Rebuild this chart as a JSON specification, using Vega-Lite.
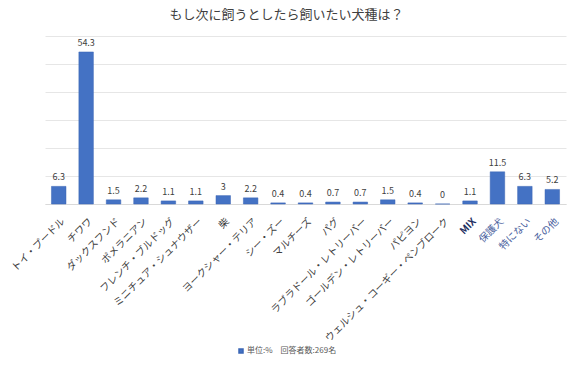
{
  "$schema": "https://vega.github.io/schema/vega-lite/v6.json",
  "width": 521,
  "height": 168,
  "autosize": {"type": "none"},
  "padding": {"left": 45, "top": 36, "right": 10, "bottom": 163},
  "background": "white",
  "title": {
    "text": "もし次に飼うとしたら飼いたい犬種は？",
    "font": "Noto Sans CJK JP",
    "fontSize": 13,
    "fontWeight": "normal",
    "color": "#404040",
    "anchor": "middle",
    "dx": -19,
    "offset": 14
  },
  "data": {
    "values": [
      {"breed": "トイ・プードル", "pct": 6.3},
      {"breed": "チワワ", "pct": 54.3},
      {"breed": "ダックスフンド", "pct": 1.5},
      {"breed": "ポメラニアン", "pct": 2.2},
      {"breed": "フレンチ・ブルドッグ", "pct": 1.1},
      {"breed": "ミニチュア・シュナウザー", "pct": 1.1},
      {"breed": "柴", "pct": 3},
      {"breed": "ヨークシャー・テリア", "pct": 2.2},
      {"breed": "シー・ズー", "pct": 0.4},
      {"breed": "マルチーズ", "pct": 0.4},
      {"breed": "パグ", "pct": 0.7},
      {"breed": "ラブラドール・レトリーバー", "pct": 0.7},
      {"breed": "ゴールデン・レトリーバー", "pct": 1.5},
      {"breed": "パピヨン", "pct": 0.4},
      {"breed": "ウェルシュ・コーギー・ペンブローク", "pct": 0},
      {"breed": "MIX", "pct": 1.1},
      {"breed": "保護犬", "pct": 11.5},
      {"breed": "特にない", "pct": 6.3},
      {"breed": "その他", "pct": 5.2}
    ]
  },
  "encoding": {
    "x": {
      "field": "breed",
      "type": "nominal",
      "sort": null,
      "scale": {"paddingInner": 0.47, "paddingOuter": 0.235},
      "axis": {
        "title": null,
        "labelAngle": -45,
        "labelFont": "Noto Sans CJK JP",
        "labelFontSize": 10,
        "labelColor": {
          "condition": [
            {"test": "datum.value === 'MIX'", "value": "#1F2F5F"},
            {"test": "indexof(['保護犬','特にない','その他'], datum.value) >= 0", "value": "#4A5F9E"}
          ],
          "value": "#404040"
        },
        "labelFontWeight": {
          "condition": {"test": "datum.value === 'MIX'", "value": "bold"},
          "value": "normal"
        },
        "labelPadding": 12,
        "labelOffset": 1,
        "ticks": false,
        "domainColor": "#d9d9d9",
        "labelLimit": 300,
        "labelOverlap": false
      }
    },
    "y": {
      "field": "pct",
      "type": "quantitative",
      "scale": {"domain": [0, 60], "nice": false},
      "axis": {
        "title": null,
        "labels": false,
        "ticks": false,
        "domain": false,
        "values": [0, 10, 20, 30, 40, 50, 60],
        "gridColor": "#e6e6e6"
      }
    }
  },
  "layer": [
    {
      "mark": {"type": "bar", "stroke": "#3a65b5", "strokeWidth": 0.5},
      "encoding": {
        "color": {
          "datum": "単位:%　回答者数:269名",
          "scale": {"range": ["#4472C4"]},
          "legend": {
            "title": null,
            "orient": "none",
            "legendX": 192,
            "legendY": 311,
            "direction": "horizontal",
            "symbolType": "square",
            "symbolSize": 16,
            "symbolOffset": 0,
            "labelOffset": 2,
            "labelFont": "Noto Sans CJK JP",
            "labelFontSize": 8,
            "labelColor": "#595959"
          }
        }
      }
    },
    {
      "mark": {
        "type": "text",
        "dy": -9,
        "font": "Noto Sans CJK JP",
        "fontSize": 9,
        "color": "#404040"
      },
      "encoding": {"text": {"field": "pct", "type": "quantitative"}}
    }
  ],
  "config": {"view": {"stroke": null}}
}
